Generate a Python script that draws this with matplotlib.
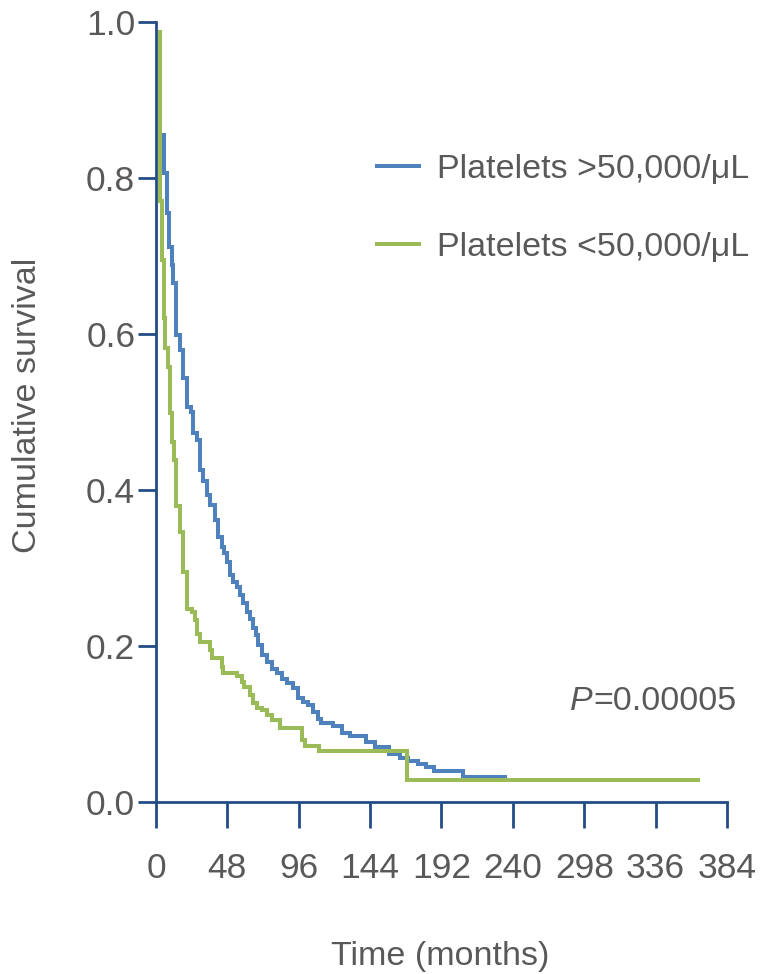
import matplotlib
matplotlib.use('Agg')
import matplotlib.pyplot as plt

plt.rcParams['font.family'] = ['Liberation Sans', 'DejaVu Sans']

# ---- data ----
x_ticks = [0, 48, 96, 144, 192, 240, 288, 336, 384]
x_tick_labels = ['0', '48', '96', '144', '192', '240', '298', '336', '384']
y_ticks = [0.0, 0.2, 0.4, 0.6, 0.8, 1.0]

series_names = ['Platelets >50,000/\u03bcL', 'Platelets <50,000/\u03bcL']

blue_times = [2.9, 3.0, 5.2, 7.2, 9, 10.8, 11.7, 13.4, 16.1, 18.4, 20.6, 23.3, 25.1,
              27.4, 29.6, 31.8, 34.1, 36.3, 39.7, 41.9, 44.2, 46, 47.5, 49.7, 52,
              54.2, 56.5, 58.7, 61, 63.2, 65, 67.2, 68.8, 71, 74.4, 77.8, 81.1,
              84.5, 87.9, 92.3, 95.7, 99, 102.4, 105.8, 109.1, 110.7, 119.2, 124.8,
              130.4, 141.2, 147.2, 156.8, 164, 169.6, 176.3, 181.5, 186.9, 206.2]
blue_surv = [0.99, 0.855, 0.807, 0.755, 0.712, 0.688, 0.666, 0.599, 0.58, 0.543,
             0.507, 0.50, 0.473, 0.464, 0.426, 0.411, 0.394, 0.381, 0.362, 0.34,
             0.327, 0.319, 0.308, 0.291, 0.282, 0.276, 0.265, 0.255, 0.244, 0.235,
             0.223, 0.214, 0.201, 0.188, 0.18, 0.171, 0.165, 0.158, 0.152, 0.146,
             0.133, 0.128, 0.124, 0.116, 0.107, 0.101, 0.097, 0.088, 0.084, 0.077,
             0.071, 0.061, 0.057, 0.052, 0.049, 0.045, 0.040, 0.032]
blue_end = 235.8

green_times = [2.9, 3.0, 3.8, 5.2, 6.3, 7.8, 9.4, 11, 12.3, 13.6, 16.1, 18.4, 21, 24,
               26.2, 27.4, 29.6, 36.3, 37.4, 44.2, 45.3, 54.2, 57.6, 59.2, 63.2,
               65.4, 68.1, 71, 74.4, 77.8, 83.4, 98, 100.2, 109.8, 169]
green_surv = [0.99, 0.77, 0.695, 0.62, 0.582, 0.558, 0.499, 0.462, 0.438, 0.38,
              0.346, 0.295, 0.248, 0.244, 0.233, 0.216, 0.205, 0.195, 0.184, 0.173,
              0.165, 0.161, 0.154, 0.148, 0.137, 0.127, 0.12, 0.118, 0.112, 0.105,
              0.095, 0.080, 0.072, 0.065, 0.028]
green_end = 365.7

p_text = '=0.00005'

# ---- style ----
BLUE = '#4F81BD'
GREEN = '#9BBB59'
NAVY = '#234C85'
GRAY = '#595959'
FS = 24.5
TFS = 25.5

W, H = 760, 974
fig = plt.figure(figsize=(W / 100, H / 100), dpi=100)
ax = fig.add_axes([156 / W, 1 - 802 / H, (727 - 156) / W, 780 / H])


def extend(times, surv, end):
    return list(times) + [end], list(surv) + [surv[-1]]


bt, bs = extend(blue_times, blue_surv, blue_end)
gt, gs = extend(green_times, green_surv, green_end)
ax.step(bt, bs, where='post', color=BLUE, lw=2.9, clip_on=False,
        solid_joinstyle='miter', solid_capstyle='butt', label=series_names[0], zorder=3)
ax.step(gt, gs, where='post', color=GREEN, lw=2.9, clip_on=False,
        solid_joinstyle='miter', solid_capstyle='butt', label=series_names[1], zorder=4)

ax.set_xlim(0, 384)
ax.set_ylim(0, 1.0)
ax.set_xticks(x_ticks)
ax.set_xticklabels(x_tick_labels)
ax.set_yticks(y_ticks)
ax.set_yticklabels([f'{v:.1f}' for v in y_ticks])

for s in ['top', 'right']:
    ax.spines[s].set_visible(False)
for s in ['left', 'bottom']:
    ax.spines[s].set_color(NAVY)
    ax.spines[s].set_linewidth(2)
    ax.spines[s].set_zorder(2)

ax.tick_params(axis='x', direction='out', length=19, width=2, color=NAVY,
               pad=17, labelsize=TFS, labelcolor=GRAY)
ax.tick_params(axis='y', direction='out', length=13, width=2, color=NAVY,
               pad=2, labelsize=TFS, labelcolor=GRAY)

fig.text(28 / W, 1 - 405 / H, 'Cumulative survival', rotation=90, ha='center',
         va='center', fontsize=FS, color=GRAY)
fig.text(440 / W, 1 - 957 / H, 'Time (months)', ha='center', va='center',
         fontsize=FS, color=GRAY)

px = 593
fig.text(px / W, 1 - 702 / H, 'P', ha='right', va='center', fontsize=FS,
         color=GRAY, style='italic')
fig.text(px / W, 1 - 702 / H, p_text, ha='left', va='center', fontsize=FS,
         color=GRAY)

leg = ax.legend(loc='upper left', bbox_to_anchor=(375 / W, 1 - 154 / H),
                bbox_transform=fig.transFigure, frameon=False, fontsize=FS,
                handlelength=1.35, handletextpad=0.47, labelspacing=1.38,
                borderpad=0, borderaxespad=0)
for t in leg.get_texts():
    t.set_color(GRAY)

fig.savefig('out.png', dpi=100)
